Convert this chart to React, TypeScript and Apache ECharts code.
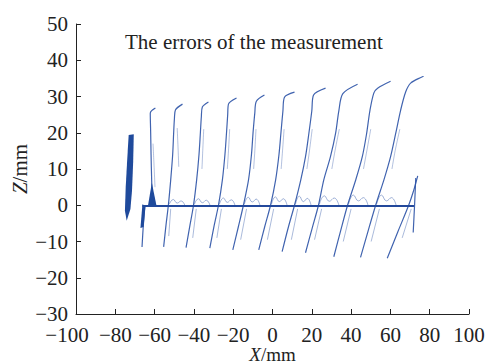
import React, { useEffect, useRef } from 'react';
import * as echarts from 'echarts';

// Axis ranges / ticks
const X_MIN = -100, X_MAX = 100, X_STEP = 20;
const Y_MIN = -30, Y_MAX = 50, Y_STEP = 10;
const TITLE = 'The errors of the measurement';

// Horizontal baseline of the measurement
const baseline: number[][] = [[-66.2, -0.2], [72.0, -0.2]];

// Main scan strokes (bottom -> crossing -> top -> hook)
const lower0: number[][] = [[-66.4, -11.5], [-65.8, -6], [-65.0, -0.2]];
const s1: number[][] = [[-61.1, 0], [-61.5, 7], [-61.8, 14], [-62.0, 20], [-62.2, 25.4], [-59.6, 26.8]];
const s2: number[][] = [[-55.4, -11.5], [-54.2, -5.5], [-53.0, 0], [-51.8, 7], [-50.8, 14], [-50.3, 20], [-49.9, 24], [-49.4, 26.3], [-45.8, 27.9]];
const s3: number[][] = [[-44.0, -11.7], [-42.0, -5.5], [-40.2, 0], [-38.6, 7], [-37.4, 14], [-36.7, 20], [-36.2, 24.5], [-35.7, 27.1], [-32.6, 28.5]];
const s4: number[][] = [[-31.9, -11.8], [-29.7, -5.6], [-27.5, 0], [-25.5, 7], [-24.2, 14], [-23.4, 20], [-22.8, 25], [-22.4, 27.9], [-18.3, 29.6]];
const s5: number[][] = [[-20.2, -12.3], [-17.4, -6], [-14.8, 0], [-12.2, 7], [-10.7, 14], [-9.9, 20], [-9.0, 25.5], [-8.2, 28.7], [-4.1, 30.4]];
const s6: number[][] = [[-7.0, -12.3], [-4.0, -6], [-1.0, 0], [1.6, 7], [3.3, 14], [4.3, 20], [5.3, 26], [6.1, 29.8], [11.2, 31.2]];
const s7: number[][] = [[4.9, -12.8], [8.0, -6.2], [11.2, 0], [14.4, 7], [16.8, 13.4], [18.5, 19.8], [20.0, 26], [20.9, 30.4], [27.0, 32.3]];
const s8: number[][] = [[16.8, -13.1], [20.1, -6.5], [23.4, 0], [26.1, 7], [29.5, 13.4], [32.1, 19.8], [33.8, 26.2], [35.8, 30.8], [43.3, 33.4]];
const s9: number[][] = [[31.2, -14.2], [34.7, -7], [38.2, 0], [42.3, 6.9], [45.7, 13.4], [47.9, 19.8], [49.6, 26.2], [51.6, 31.0], [53.5, 32.3], [60.1, 34.2]];
const s10: number[][] = [[44.8, -14.4], [48.6, -7.2], [52.5, 0], [56.7, 7], [60.1, 13.4], [62.7, 19.8], [65.2, 26.2], [67.8, 31.3], [70.3, 33.7], [76.9, 35.6]];
const s11: number[][] = [[58.4, -14.6], [63.8, -7.3], [69.3, 0], [71.8, 4], [73.9, 8.1]];
const sEnd: number[][] = [[71.6, -7.5], [72.3, 0], [72.9, 7.5]];

// Fainter secondary traces beside each stroke (upper part)
const u1: number[][] = [[-60.8, 17], [-60.2, 10], [-59.8, 5]];
const u2: number[][] = [[-48.5, 21.3], [-48.0, 15], [-47.7, 10.6]];
const u3: number[][] = [[-35.0, 21], [-35.5, 15], [-35.9, 10]];
const u4: number[][] = [[-21.8, 21], [-22.4, 15], [-23.0, 10]];
const u5: number[][] = [[-8.4, 21], [-9.0, 15], [-9.6, 10]];
const u6: number[][] = [[5.9, 21], [5.1, 15], [4.4, 10]];
const u7: number[][] = [[20.2, 21], [18.8, 15], [17.5, 10]];
const u8: number[][] = [[34.0, 21], [31.8, 15], [30.2, 10]];
const u9: number[][] = [[50.0, 21], [48.0, 15], [46.3, 10]];
const u10: number[][] = [[64.8, 21], [62.4, 15], [60.8, 10]];

// Fainter secondary traces below the baseline
const l2: number[][] = [[-51.8, -1], [-52.8, -8.5]];
const l3: number[][] = [[-38.8, -1], [-40.6, -9]];
const l4: number[][] = [[-26.0, -1], [-28.3, -9]];
const l5: number[][] = [[-13.2, -1], [-16.2, -9.5]];
const l6: number[][] = [[0.6, -1], [-2.6, -9.5]];
const l7: number[][] = [[12.8, -1], [9.6, -9.5]];
const l8: number[][] = [[25.0, -1], [21.4, -9.5]];
const l9: number[][] = [[40.0, -1], [36.0, -10]];
const l10: number[][] = [[54.4, -1], [50.2, -10]];
const l11: number[][] = [[70.6, -1], [66.0, -9]];

// Small ripples just above the baseline
const r2: number[][] = [[-52.5, 0.3], [-50.5, 1.6], [-48.5, 0.6], [-46.5, 1.2], [-44.5, -0.2]];
const r3: number[][] = [[-39.7, 0.3], [-37.7, 1.8], [-35.7, 0.7], [-33.7, 1.4], [-31.7, -0.2]];
const r4: number[][] = [[-27.0, 0.3], [-25.0, 2.0], [-23.0, 0.8], [-21.0, 1.5], [-19.0, -0.2]];
const r5: number[][] = [[-14.3, 0.3], [-12.3, 2.2], [-10.3, 0.9], [-8.3, 1.7], [-6.3, -0.2]];
const r6: number[][] = [[-0.5, 0.3], [1.5, 2.3], [3.5, 1.0], [5.5, 1.8], [7.5, -0.2]];
const r7: number[][] = [[11.7, 0.3], [13.7, 2.5], [15.7, 1.0], [17.7, 1.9], [19.7, -0.2]];
const r8: number[][] = [[23.9, 0.3], [26.4, 2.6], [28.9, 1.1], [31.4, 2.0], [33.9, -0.2]];
const r9: number[][] = [[38.7, 0.3], [41.2, 2.8], [43.7, 1.2], [46.2, 2.1], [48.7, -0.2]];
const r10: number[][] = [[53.0, 0.3], [55.5, 2.8], [58.0, 1.2], [60.5, 2.1], [63.0, -0.2]];

// Dense filled regions
const blobA: number[][] = [[-73.2, 19.4], [-70.6, 19.6], [-70.9, 12], [-71.5, 4], [-72.3, -1], [-74.2, -4.3], [-75.1, -1.5], [-74.7, 5], [-74.0, 12]];
const wedge: number[][] = [[-67.2, -6.3], [-65.6, -6.0], [-64.6, -0.2], [-66.2, 0.3]];
const spike: number[][] = [[-63.4, -0.2], [-61.4, 6.2], [-59.0, -0.2]];

const mainStrokes = [lower0, s1, s2, s3, s4, s5, s6, s7, s8, s9, s10, s11, sEnd];
const upperTraces = [u1, u2, u3, u4, u5, u6, u7, u8, u9, u10];
const lowerTraces = [l2, l3, l4, l5, l6, l7, l8, l9, l10, l11];
const ripples = [r2, r3, r4, r5, r6, r7, r8, r9, r10];
const blobs = [blobA, wedge, spike];

const BLUE = '#2b52a6';
const FONT = '"Liberation Serif", "Times New Roman", serif';
const FS = 21;

const minus = (v: number) => (v < 0 ? '\u2212' + Math.abs(v) : String(v));

export default function App() {
  const ref = useRef<HTMLDivElement>(null);
  useEffect(() => {
    if (!ref.current) return;
    const chart = echarts.init(ref.current, undefined, { renderer: 'svg' });
    const line = (pts: number[][], width: number, opacity: number, z = 2, smooth: any = false) => ({
      type: 'line',
      data: pts,
      showSymbol: false,
      symbol: 'none',
      silent: true,
      smooth,
      z,
      lineStyle: { color: BLUE, width, opacity },
    });
    const series: any[] = [];
    ripples.forEach((r) => series.push(line(r, 0.8, 0.55, 1, 0.5)));
    lowerTraces.forEach((r) => series.push(line(r, 0.8, 0.5, 1)));
    upperTraces.forEach((r) => series.push(line(r, 0.8, 0.45, 1, 0.3)));
    mainStrokes.forEach((r) => series.push(line(r, 1.2, 0.9, 2, 0.3)));
    series.push({ ...line(baseline, 2, 1, 3), lineStyle: { color: '#23489b', width: 2 } });
    series.push({
      type: 'custom',
      coordinateSystem: 'cartesian2d',
      silent: true,
      z: 4,
      data: blobs.map((b) => b[0]),
      renderItem: (params: any, api: any) => {
        const pts = blobs[params.dataIndex].map((p) => api.coord(p));
        return { type: 'polygon', shape: { points: pts }, style: { fill: '#1f4a9c' } };
      },
    });

    const labelStyle = { fontFamily: FONT, fontSize: FS, color: '#222' };
    const nameStyle = { fontFamily: FONT, fontSize: 19, color: '#222' };
    const axisCommon = {
      axisLine: { show: true, onZero: false, lineStyle: { color: '#222', width: 1 } },
      axisTick: { show: true, inside: true, length: 5, lineStyle: { color: '#222' } },
      splitLine: { show: false },
    };
    chart.setOption({
      animation: false,
      backgroundColor: '#fff',
      title: {
        text: TITLE,
        left: 125,
        top: 31,
        padding: 0,
        textStyle: { fontFamily: FONT, fontSize: FS, fontWeight: 'normal', color: '#222' },
      },
      grid: { left: 76, right: 18, top: 24, bottom: 49, containLabel: false, outerBoundsMode: 'none' },
      xAxis: {
        type: 'value',
        min: X_MIN,
        max: X_MAX,
        interval: X_STEP,
        name: '{i|X}/mm',
        nameLocation: 'middle',
        nameMoveOverlap: false,
        nameGap: 32,
        nameTextStyle: {
          ...nameStyle,
          lineHeight: 16,
          rich: { i: { ...nameStyle, lineHeight: 16, fontStyle: 'italic' } },
        },
        ...axisCommon,
        axisLabel: {
          ...labelStyle,
          margin: 10,
          formatter: (v: number) => (v === X_MIN ? '{s|' + minus(v) + '}' : minus(v)),
          rich: { s: { ...labelStyle, padding: [0, 18, 0, 0] } },
        },
      },
      yAxis: {
        type: 'value',
        min: Y_MIN,
        max: Y_MAX,
        interval: Y_STEP,
        name: '{i|Z}/mm',
        nameLocation: 'middle',
        nameMoveOverlap: false,
        nameGap: 46,
        nameTextStyle: {
          ...nameStyle,
          fontSize: FS,
          rich: { i: { ...nameStyle, fontSize: FS, fontStyle: 'italic' } },
        },
        ...axisCommon,
        axisLabel: { ...labelStyle, lineHeight: 17, margin: 8, formatter: (v: number) => minus(v) },
      },
      series,
    });
    return () => chart.dispose();
  }, []);
  return <div ref={ref} style={{ position: 'absolute', left: 0, top: 0, width: 487, height: 363 }} />;
}
